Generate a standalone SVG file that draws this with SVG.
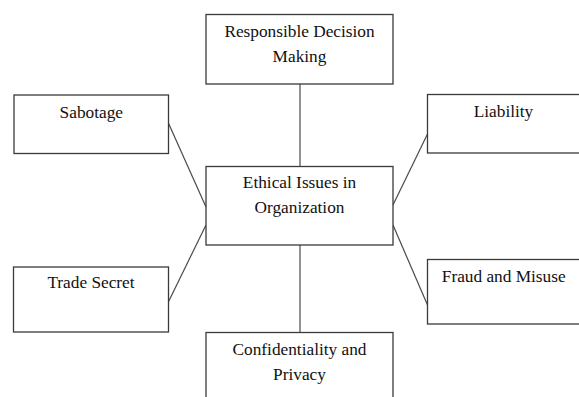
<svg xmlns="http://www.w3.org/2000/svg" width="579" height="397" viewBox="0 0 579 397">
<style>
.box{fill:#fff;stroke:#3a3a3a;stroke-width:1.3}
.lbl{font-family:"Liberation Serif","Times New Roman",serif;font-size:17.3px;fill:#111;text-anchor:middle}
.conn{stroke:#4a4a4a;stroke-width:1.2;fill:none}
</style>
<rect width="579" height="397" fill="#fff"/>
<g id="connectors">
<line class="conn" x1="300" y1="84" x2="300" y2="166.5"/>
<line class="conn" x1="300" y1="245" x2="300" y2="332.5"/>
<line class="conn" x1="168.5" y1="123.3" x2="206" y2="207"/>
<line class="conn" x1="168.5" y1="301.7" x2="206" y2="225"/>
<line class="conn" x1="427.5" y1="134" x2="393" y2="205"/>
<line class="conn" x1="393" y1="225" x2="427.5" y2="305"/>
</g>
<g id="responsible">
<rect class="box" x="206" y="14.5" width="187" height="69.5"/>
<text class="lbl" x="299.5" y="36.7">Responsible Decision</text>
<text class="lbl" x="299.5" y="61.5">Making</text>
</g>
<g id="sabotage">
<rect class="box" x="14" y="95" width="154.5" height="58.5"/>
<text class="lbl" x="91.3" y="118">Sabotage</text>
</g>
<g id="liability">
<rect class="box" x="427.5" y="94.5" width="152.5" height="58.5"/>
<text class="lbl" x="503.5" y="117">Liability</text>
</g>
<g id="ethical">
<rect class="box" x="206" y="166.5" width="187" height="78.5"/>
<text class="lbl" x="299.5" y="188.3">Ethical Issues in</text>
<text class="lbl" x="299.5" y="213.3">Organization</text>
</g>
<g id="trade">
<rect class="box" x="13.5" y="267" width="155" height="65"/>
<text class="lbl" x="91" y="288.3">Trade Secret</text>
</g>
<g id="fraud">
<rect class="box" x="427.5" y="259.5" width="152.5" height="64.5"/>
<text class="lbl" x="503.7" y="282">Fraud and Misuse</text>
</g>
<g id="confidentiality">
<rect class="box" x="206" y="332.5" width="187" height="80"/>
<text class="lbl" x="299.5" y="355">Confidentiality and</text>
<text class="lbl" x="299.5" y="380">Privacy</text>
</g>
</svg>
